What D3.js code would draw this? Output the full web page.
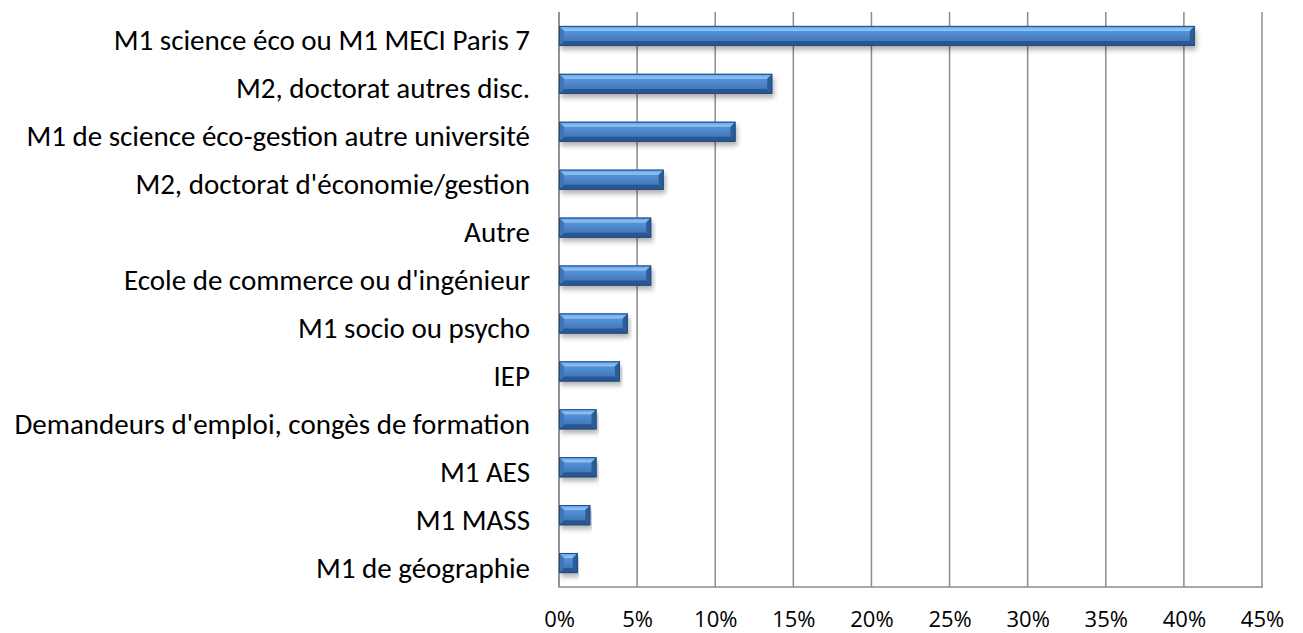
<!DOCTYPE html>
<html>
<head>
<meta charset="utf-8">
<script src="https://cdnjs.cloudflare.com/ajax/libs/d3/7.8.5/d3.min.js"></script>
<style>
  body { margin: 0; background: #fff; }
  text { font-family: Carlito, Lato, "Open Sans", sans-serif; fill: #000; }
</style>
</head>
<body>
<div id="chart"></div>
<script>
var categories = [
  "M1 science éco ou M1 MECI Paris 7",
  "M2, doctorat autres disc.",
  "M1 de science éco-gestion autre université",
  "M2, doctorat d'économie/gestion",
  "Autre",
  "Ecole de commerce ou d'ingénieur",
  "M1 socio ou psycho",
  "IEP",
  "Demandeurs d'emploi, congès de formation",
  "M1 AES",
  "M1 MASS",
  "M1 de géographie"
]
var values = [40.7, 13.65, 11.3, 6.7, 5.9, 5.9, 4.4, 3.9, 2.4, 2.4, 2.0, 1.2]
var ticks = [0, 5, 10, 15, 20, 25, 30, 35, 40, 45]

var w = 1303, h = 633
var margin = {top: 12, right: 41, bottom: 46, left: 559}

var svg = d3.select('#chart').append('svg')
  .attr('width', w)
  .attr('height', h)

var defs = svg.append('defs')

var face = defs.append('linearGradient').attr('id', 'face')
  .attr('x1', 0).attr('y1', 0).attr('x2', 0).attr('y2', 1)
face.append('stop').attr('offset', '0%').attr('stop-color', '#609fe4')
face.append('stop').attr('offset', '100%').attr('stop-color', '#386cb0')

var topg = defs.append('linearGradient').attr('id', 'topbevel')
  .attr('x1', 0).attr('y1', 0).attr('x2', 0).attr('y2', 1)
topg.append('stop').attr('offset', '0%').attr('stop-color', '#5fa0e8')
topg.append('stop').attr('offset', '100%').attr('stop-color', '#92c8f8')

var shadow = defs.append('filter').attr('id', 'shadow')
  .attr('x', '-5%').attr('y', '-50%').attr('width', '110%').attr('height', '200%')
shadow.append('feGaussianBlur').attr('in', 'SourceAlpha').attr('stdDeviation', 2.5).attr('result', 'b')
shadow.append('feOffset').attr('in', 'b').attr('dx', 2).attr('dy', 4).attr('result', 'o')
shadow.append('feComponentTransfer').attr('in', 'o')
  .append('feFuncA').attr('type', 'linear').attr('slope', 0.3)

var x = d3.scaleLinear()
  .domain([0, 45])
  .range([margin.left, w - margin.right])

var y = d3.scaleBand()
  .domain(categories)
  .range([margin.top, h - margin.bottom])
  .paddingInner(0.58)
  .paddingOuter(0.29)

var g = svg.append('g')

// vertical gridlines
g.selectAll('line.grid')
  .data(ticks)
  .enter()
  .append('line')
  .attr('class', 'grid')
  .attr('x1', function(d) { return x(d) })
  .attr('x2', function(d) { return x(d) })
  .attr('y1', margin.top)
  .attr('y2', h - margin.bottom)
  .attr('stroke', '#8c8c8c')
  .attr('stroke-width', 1.5)

// bottom axis line
g.append('line')
  .attr('x1', x(0) - 0.75).attr('x2', x(45) + 0.75)
  .attr('y1', h - margin.bottom).attr('y2', h - margin.bottom)
  .attr('stroke', '#8c8c8c')
  .attr('stroke-width', 1.5)

// tick labels
var xAxis = d3.axisBottom(x)
  .tickValues(ticks)
  .tickFormat(function(d) { return d + '%' })
  .tickSize(0)
  .tickPadding(24)

var ax = svg.append('g')
  .attr('transform', 'translate(0,' + (h - margin.bottom) + ')')
  .call(xAxis)
ax.select('.domain').remove()
ax.selectAll('text')
  .style('font-size', '22px')
  .style('font-family', '"Open Sans", sans-serif')
  .attr('fill', '#000')

var yAxis = d3.axisLeft(y).tickSize(0).tickPadding(29)
var ay = svg.append('g')
  .attr('transform', 'translate(' + margin.left + ',0)')
  .call(yAxis)
ay.select('.domain').remove()
ay.selectAll('text')
  .style('font-size', '29px')
  .attr('dy', '0.5em')
  .attr('fill', '#000')

// bars
var bars = g.selectAll('g.bar')
  .data(values)
  .enter()
  .append('g')
  .attr('class', 'bar')

var b = 5

bars.append('rect')
  .attr('x', x(0))
  .attr('y', function(d, i) { return y(categories[i]) })
  .attr('width', function(d) { return x(d) - x(0) })
  .attr('height', y.bandwidth())
  .attr('fill', '#000')
  .attr('filter', 'url(#shadow)')

function poly(pts) {
  return 'M' + pts.map(function(p) { return p[0] + ',' + p[1] }).join('L') + 'Z'
}

bars.each(function(d, i) {
  var sel = d3.select(this)
  var x0 = x(0), x1 = x(d)
  var y0 = y(categories[i]), y1 = y0 + y.bandwidth()
  var bb = Math.min(b, (x1 - x0) / 2)
  sel.append('rect')
    .attr('x', x0).attr('y', y0)
    .attr('width', x1 - x0).attr('height', y1 - y0)
    .attr('fill', 'url(#face)')
  sel.append('path')
    .attr('d', poly([[x0, y0], [x1, y0], [x1 - bb, y0 + b], [x0 + bb, y0 + b]]))
    .attr('fill', 'url(#topbevel)')
  sel.append('path')
    .attr('d', poly([[x0, y1], [x1, y1], [x1 - bb, y1 - b], [x0 + bb, y1 - b]]))
    .attr('fill', '#2b5790')
  sel.append('path')
    .attr('d', poly([[x0, y0], [x0 + bb, y0 + b], [x0 + bb, y1 - b], [x0, y1]]))
    .attr('fill', '#3f76bb')
  sel.append('path')
    .attr('d', poly([[x1, y0], [x1 - bb, y0 + b], [x1 - bb, y1 - b], [x1, y1]]))
    .attr('fill', '#2d5d98')
  sel.append('rect')
    .attr('x', x0 + 0.5).attr('y', y0 + 0.5)
    .attr('width', x1 - x0 - 1).attr('height', y1 - y0 - 1)
    .attr('fill', 'none')
    .attr('stroke', '#234a7c')
    .attr('stroke-width', 1)
})

// left axis line under the bars
g.append('line')
  .attr('x1', x(0)).attr('x2', x(0))
  .attr('y1', margin.top).attr('y2', h - margin.bottom)
  .attr('stroke', '#8c8c8c')
  .attr('stroke-width', 1.5)
  .lower()
</script>
</body>
</html>
